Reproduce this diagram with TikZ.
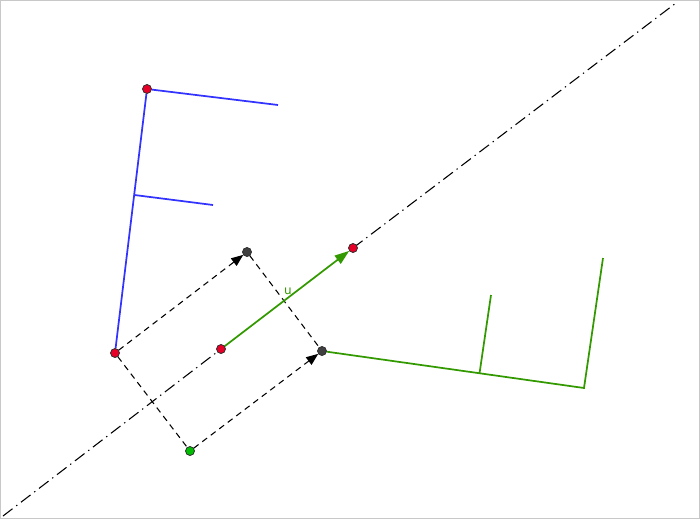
\documentclass[tikz,border=0pt]{standalone}
\usepackage{fontspec}
\setmainfont{DejaVu Sans}
\usetikzlibrary{arrows.meta}
\definecolor{fblue}{RGB}{51,51,255}
\definecolor{fgreen}{RGB}{51,153,0}
\definecolor{ptred}{RGB}{230,0,40}
\definecolor{ptdark}{RGB}{64,64,64}
\definecolor{ptgreen}{RGB}{0,190,0}
\definecolor{frame}{RGB}{200,200,200}
\tikzset{
  pt/.style={circle,draw=black!80,line width=0.5pt,inner sep=0pt,minimum size=6.6pt},
  redpt/.style={pt,fill=ptred},
  darkpt/.style={pt,fill=ptdark},
  greenpt/.style={pt,fill=ptgreen},
  bluef/.style={draw=fblue,line width=1.3pt},
  greenf/.style={draw=fgreen,line width=1.3pt},
  axisline/.style={draw=black,line width=0.8pt,dash pattern=on 9pt off 3.5pt on 1pt off 3.5pt},
  dashedline/.style={draw=black,line width=0.8pt,dash pattern=on 4.5pt off 3.5pt},
  tip/.style={-{Triangle[length=9pt,width=7pt]}},
}
\begin{document}
\begin{tikzpicture}[x=0.75pt,y=-0.75pt]
\path[use as bounding box] (0,0) rectangle (700,519);
\draw[frame,line width=0.75pt] (0.5,0.5) rectangle (699.5,518.5);
% axis
\coordinate (ax1) at (3,516);
\coordinate (ax2) at (676,3);
% points
\node[redpt] (P) at (147,89) {};
\node[redpt] (A) at (115,353) {};
\node[redpt] (M) at (221,349) {};
\node[redpt] (N) at (353,248) {};
\node[darkpt] (D) at (247,252) {};
\node[darkpt] (B) at (322,351) {};
\node[greenpt] (G) at (190,451) {};
\draw[axisline] (ax1) -- (M.center);
\draw[axisline] (N.center) -- (ax2);
% blue F
\coordinate (T1) at (278,105);
\coordinate (Mb1) at (134.5,195);
\coordinate (Mb2) at (213,205);
\draw[bluef] (A) -- (P) -- (T1);
\draw[bluef] (Mb1) -- (Mb2);
% green F
\coordinate (C) at (584,388);
\coordinate (C2) at (603,258);
\coordinate (Gm1) at (479.5,373.5);
\coordinate (Gm2) at (491,295);
\draw[greenf] (B) -- (C) -- (C2);
\draw[greenf] (Gm1) -- (Gm2);
% dashed
\draw[dashedline,tip] (A) -- (D);
\draw[dashedline] (D) -- (B);
\draw[dashedline] (A) -- (G);
\draw[dashedline,tip] (G) -- (B);
% vector u
\draw[draw=fgreen,line width=1.3pt,-{Triangle[length=11pt,width=7.5pt]}] (M) -- (N);
\node[text=fgreen,font=\fontsize{9}{10}\selectfont] (ulab) at (288,291) {u};
% redraw points on top
\node[redpt] at (P) {};
\node[redpt] at (A) {};
\node[redpt] at (M) {};
\node[redpt] at (N) {};
\node[darkpt] at (D) {};
\node[darkpt] at (B) {};
\node[greenpt] at (G) {};
\end{tikzpicture}
\end{document}
